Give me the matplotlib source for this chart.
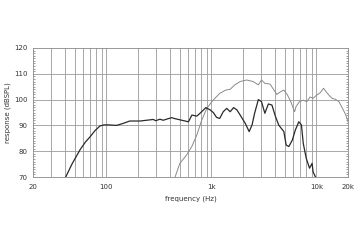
import matplotlib
matplotlib.use("Agg")
import matplotlib.pyplot as plt
from matplotlib.ticker import FixedLocator, NullFormatter, MultipleLocator

# woofer (dark) response
woofer_f = [41, 47, 56, 63, 70, 78, 87, 95, 105, 125, 145, 167, 209, 242, 280, 295,
            323, 348, 380, 419, 451, 522, 605, 652, 727, 808, 885, 974, 1042, 1121,
            1200, 1296, 1400, 1510, 1627, 1750, 1880, 2100, 2290, 2440, 2580, 2800,
            3000, 3230, 3490, 3770, 4080, 4370, 4540, 4900, 5150, 5460, 5900, 6300,
            6800, 7200, 7500, 8000, 8600, 9100, 9300, 9800]
woofer_db = [70, 75, 80.5, 83.5, 85.6, 88, 89.8, 90.2, 90.2, 90, 90.8, 91.7, 91.7, 92,
             92.3, 91.8, 92.4, 92, 92.5, 93, 92.6, 92, 91.4, 94, 93.6, 95.3, 96.9, 96,
             95, 93.1, 92.7, 95.3, 96.6, 95.3, 96.9, 96, 94, 90.8, 87.6, 90.2, 94.7,
             100, 99.2, 94.7, 98.3, 97.9, 93.4, 90.2, 89.3, 87.6, 82.4, 81.8, 84.3,
             88.2, 91.4, 90.2, 83, 77.3, 73.4, 75.3, 72, 70]

# tweeter (light) response
tweeter_f = [451, 501, 580, 651, 727, 808, 904, 1040, 1200, 1370, 1510, 1670, 1880,
             2170, 2500, 2800, 3000, 3230, 3620, 3900, 4200, 4540, 4900, 5300, 5700,
             6200, 6400, 6900, 7500, 8100, 8700, 9300, 10100, 10900, 11700, 12400,
             13100, 14100, 15200, 16400, 17700, 19100, 20000]
tweeter_db = [70, 75.3, 78.5, 81.8, 86.3, 92, 96.6, 99.8, 102.4, 103.7, 104, 105.7,
              107, 107.6, 107, 105.7, 107.6, 106.3, 106, 104, 102, 103, 103.7, 101.8,
              99.2, 95.3, 97.3, 99.2, 99.8, 99.2, 101, 100.5, 101.8, 102.7, 104.4, 103,
              101.8, 100.5, 100.1, 99.2, 96.6, 94, 91.4]

x_ticks = [20, 100, 1000, 10000, 20000]
x_ticklabels = ["20", "100", "1k", "10k", "20k"]
y_ticks = [70, 80, 90, 100, 110, 120]

fig = plt.figure(figsize=(3.6, 2.4), dpi=100)
ax = fig.add_axes([33/360, 1-177/240, 315/360, 129/240])

ax.set_xscale("log")
ax.set_xlim(20, 20000)
ax.set_ylim(70, 120)

grid_minor = []
for dec in [10, 100, 1000, 10000]:
    for m in range(2, 10):
        v = dec * m
        if 20 < v < 20000:
            grid_minor.append(v)
for v in grid_minor + [100, 1000, 10000]:
    ax.axvline(v, color="#9a9a9a", lw=0.6, zorder=1)
for v in y_ticks[1:-1]:
    ax.axhline(v, color="#9a9a9a", lw=0.6, zorder=1)

ax.plot(tweeter_f, tweeter_db, color="#8a8a8a", lw=0.7, zorder=3)
ax.plot(woofer_f, woofer_db, color="#2a2a2a", lw=0.9, zorder=4)

ax.xaxis.set_major_locator(FixedLocator(x_ticks))
ax.xaxis.set_minor_locator(FixedLocator([]))
ax.set_xticks(x_ticks)
ax.set_xticklabels(x_ticklabels)
ax.xaxis.set_minor_formatter(NullFormatter())
ax.set_yticks(y_ticks)
ax.yaxis.set_minor_locator(MultipleLocator(1))
ax.tick_params(axis="x", length=0, labelsize=5, pad=5, colors="#333333")
ax.tick_params(axis="y", which="major", length=0, labelsize=5, pad=4, colors="#333333")
ax.tick_params(axis="y", which="minor", length=1.5, width=0.4, direction="in",
               left=True, right=True, color="#555555")

for s in ax.spines.values():
    s.set_color("#888888")
    s.set_linewidth(0.6)

ax.set_xlabel("frequency (Hz)", fontsize=5, color="#333333", labelpad=4)
ax.set_ylabel("response (dBSPL)", fontsize=5, color="#333333", labelpad=2)

fig.savefig("out.png", dpi=100, facecolor="white")
